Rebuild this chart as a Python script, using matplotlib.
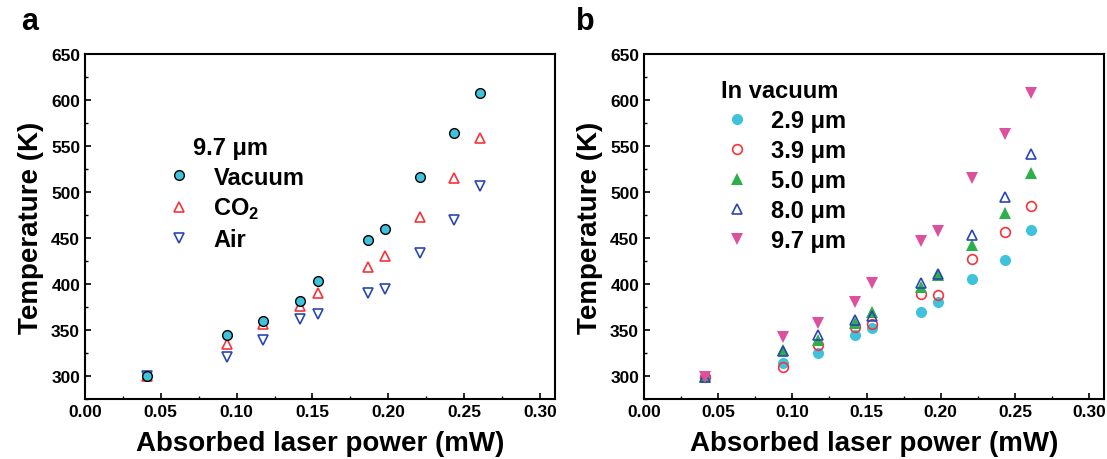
import matplotlib.pyplot as plt
from matplotlib.ticker import MultipleLocator
import numpy as np

plt.rcParams['font.family'] = ['Liberation Sans', 'DejaVu Sans']
plt.rcParams['font.weight'] = 'bold'
plt.rcParams['axes.labelweight'] = 'bold'
plt.rcParams['mathtext.fontset'] = 'custom'
plt.rcParams['mathtext.rm'] = 'Liberation Sans:bold'
plt.rcParams['mathtext.bf'] = 'Liberation Sans:bold'

# panel a: 9.7 um laser in different gases
power = [0.0412, 0.0939, 0.1173, 0.1421, 0.1537, 0.1868, 0.1982, 0.2212, 0.2432, 0.2605]
t_vacuum = [300, 344.4, 359.5, 381.9, 402.8, 448.3, 459.4, 516.5, 563.7, 607.7]
t_co2 = [300, 335.0, 356.6, 376.5, 389.8, 418.7, 430.2, 473.2, 515.0, 559.0]
t_air = [300, 320.2, 339.3, 361.7, 367.1, 390.6, 394.5, 433.9, 469.9, 507.0]

# panel b: different wavelengths in vacuum
t_29 = [299, 314.3, 325.1, 344.5, 351.8, 369.8, 380.9, 405.8, 426.6, 458.7]
t_39 = [299, 309.7, 333.8, 353.7, 356.2, 389.3, 387.8, 427.1, 456.6, 484.3]
t_50 = [299, 327.8, 339.6, 357.6, 369.9, 396.9, 410.2, 442.2, 477.1, 520.3]
t_80 = [299, 327.0, 344.6, 361.2, 364.8, 400.8, 410.5, 453.7, 494.1, 541.6]
t_97 = [299, 342.9, 358.0, 379.9, 400.8, 446.9, 458.0, 515.7, 562.7, 607.5]

cyan = '#3fc3dc'
red = '#f5343a'
blue = '#2a47b0'
green = '#2db04a'
pink = '#de4f9e'

fig = plt.figure(figsize=(11.07, 4.6), dpi=100)
ax1 = fig.add_axes([85/1107, 60/460, 470/1107, 345/460])
ax2 = fig.add_axes([644/1107, 60/460, 460/1107, 345/460])

ms = 7.5
ax1.plot(power, t_air, 'v', ms=ms, mfc='none', mec=blue, mew=1.2, label='Air')
ax1.plot(power, t_co2, '^', ms=ms, mfc='none', mec=red, mew=1.2, label='CO$_2$')
ax1.plot(power, t_vacuum, 'o', ms=7, mfc=cyan, mec='black', mew=1.0, label='Vacuum')

ax2.plot(power, t_29, 'o', ms=8, mfc=cyan, mec=cyan, mew=0, label='2.9 μm')
ax2.plot(power, t_39, 'o', ms=7, mfc='none', mec=red, mew=1.2, label='3.9 μm')
ax2.plot(power, t_50, '^', ms=8, mfc=green, mec=green, mew=0, label='5.0 μm')
ax2.plot(power, t_80, '^', ms=ms, mfc='none', mec=blue, mew=1.2, label='8.0 μm')
ax2.plot(power, t_97, 'v', ms=8, mfc=pink, mec=pink, mew=0, label='9.7 μm')

for ax in (ax1, ax2):
    ax.set_xlim(0, 0.31)
    ax.set_ylim(275, 650)
    ax.xaxis.set_major_locator(MultipleLocator(0.05))
    ax.xaxis.set_minor_locator(MultipleLocator(0.025))
    ax.yaxis.set_major_locator(MultipleLocator(50))
    ax.yaxis.set_minor_locator(MultipleLocator(25))
    ax.xaxis.set_major_formatter(plt.FormatStrFormatter('%.2f'))
    ax.tick_params(which='major', direction='in', length=4, width=1.2, labelsize=12.5)
    ax.tick_params(which='minor', direction='in', length=2.5, width=1.0)
    for sp in ax.spines.values():
        sp.set_linewidth(1.5)
    ax.set_xlabel('Absorbed laser power (mW)', fontsize=20, labelpad=8)
    ax.set_ylabel('Temperature (K)', fontsize=20, labelpad=5)

h, l = ax1.get_legend_handles_labels()
leg1 = ax1.legend(h[::-1], l[::-1], title='9.7 μm', loc='upper left',
                  bbox_to_anchor=(0.105, 0.825), frameon=False, fontsize=17,
                  title_fontsize=17, handletextpad=0.45, labelspacing=0.3)
leg1.get_title().set_fontweight('bold')

leg2 = ax2.legend(title='In vacuum', loc='upper left', bbox_to_anchor=(0.105, 0.99),
                  frameon=False, fontsize=17, title_fontsize=17,
                  handletextpad=0.45, labelspacing=0.3)
leg2.get_title().set_fontweight('bold')

fig.text(30/1107, 1 - 22/460, 'a', fontsize=22, fontweight='bold', ha='center', va='center')
fig.text(585/1107, 1 - 22/460, 'b', fontsize=22, fontweight='bold', ha='center', va='center')

fig.savefig('out.png', dpi=100)
